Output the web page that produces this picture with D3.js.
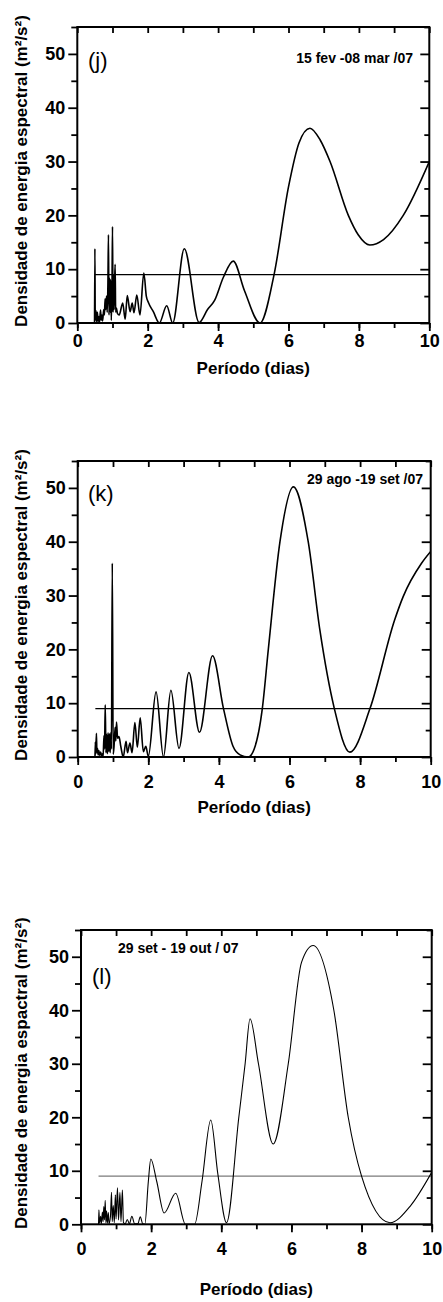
<!DOCTYPE html>
<html>
<head>
<meta charset="utf-8">
<script src="https://cdnjs.cloudflare.com/ajax/libs/d3/7.8.5/d3.min.js"></script>
<style>
  body { margin: 0; background: #fff; }
  text { font-family: "Liberation Sans", Arial, sans-serif; fill: #000; }
</style>
</head>
<body>
<script>
// ---- data ----
var xTicks = [0, 2, 4, 6, 8, 10];
var yTicks = [0, 10, 20, 30, 40, 50];
var xDomain = [0, 10];
var yDomain = [0, 55];
var threshold = 9;
var thresholdStart = 0.5;
var xTitle = "Período (dias)";

// (j) 15 fev - 08 mar / 07
var jPeriod = [0.49, 0.50, 0.51, 0.53, 0.55, 0.57, 0.59, 0.61, 0.63, 0.66, 0.68, 0.70, 0.72, 0.75, 0.77, 0.79,
  0.81, 0.83, 0.85, 0.87, 0.885, 0.90, 0.92, 0.935, 0.95, 0.965, 0.985, 1.0, 1.015, 1.03, 1.045, 1.06, 1.075,
  1.09, 1.11, 1.14, 1.19, 1.29, 1.36, 1.42, 1.50, 1.56, 1.61, 1.69, 1.78, 1.89, 1.96, 2.02, 2.16, 2.33, 2.54,
  2.71, 3.04, 3.46, 3.70, 3.90, 4.15, 4.43, 4.75, 5.19, 5.59, 6.00, 6.30, 6.61, 6.90, 7.18, 7.70, 7.98, 8.31,
  8.70, 9.26, 10.0];
var jDensity = [0, 13.8, 0.5, 2.3, 0.2, 2.0, 0.3, 1.2, 0.1, 2.4, 0.5, 1.5, 0.4, 2.5, 1.5, 4.5,
  2.5, 5.0, 2.0, 7.5, 16.4, 1.5, 8.3, 2.0, 8.0, 0.5, 6.0, 17.9, 2.0, 9.0, 2.5, 7.5, 10.9,
  2.0, 2.8, 1.8, 1.5, 3.7, 0.7, 5.1, 2.1, 3.7, 1.9, 5.2, 1.5, 9.3, 5.0, 3.8, 2.1, 0, 3.2,
  0, 13.8, 0.1, 2.5, 4.2, 8.5, 11.5, 6.0, 0, 9.0, 25.3, 33.5, 36.2, 34.0, 30.0, 20.0, 16.4, 14.5,
  15.5, 20.0, 30.0];

// (k) 29 ago - 19 set / 07
var kPeriod = [0.49, 0.50, 0.51, 0.53, 0.545, 0.56, 0.58, 0.60, 0.62, 0.65, 0.68, 0.70, 0.72, 0.745, 0.76, 0.78,
  0.80, 0.82, 0.84, 0.86, 0.88, 0.90, 0.92, 0.94, 0.955, 0.98, 1.005, 1.03, 1.06, 1.08, 1.10, 1.13, 1.17, 1.22,
  1.29, 1.37, 1.41, 1.48, 1.54, 1.62, 1.69, 1.77, 1.86, 1.93, 2.0, 2.22, 2.43, 2.64, 2.87, 3.15, 3.45, 3.82,
  4.13, 4.40, 4.60, 4.83, 5.00, 5.23, 5.40, 5.73, 6.11, 6.53, 6.86, 7.27, 7.71, 8.28, 8.98, 9.22, 9.74, 10.0];
var kDensity = [0, 2.8, 0.5, 4.4, 0.8, 1.6, 0.4, 1.2, 0.3, 0.9, 0.2, 0.6, 0.1, 4.0, 1.5, 9.7,
  0.8, 4.2, 0.6, 4.5, 1.0, 4.3, 0.8, 4.6, 1.5, 36.0, 0.5, 2.0, 5.5, 3.0, 6.5, 3.5, 3.8, 2.0,
  0, 2.9, 0.8, 2.6, 0.8, 6.4, 1.8, 7.3, 1.0, 2.0, 0.1, 12.1, 0, 12.4, 1.6, 15.7, 4.6, 18.8,
  9.0, 2.0, 0.4, 0, 1.5, 9.0, 20.0, 40.0, 50.2, 40.0, 23.6, 9.0, 0.9, 9.0, 25.5, 29.8, 36.0, 38.2];

// (l) 29 set - 19 out / 07
var lPeriod = [0.50, 0.51, 0.53, 0.56, 0.58, 0.61, 0.63, 0.65, 0.67, 0.69, 0.71, 0.73, 0.75, 0.78, 0.80,
  0.84, 0.87, 0.89, 0.92, 0.95, 0.98, 1.00, 1.04, 1.07, 1.11, 1.14, 1.18, 1.21, 1.26, 1.32, 1.38, 1.45, 1.53,
  1.62, 1.69, 1.76, 1.82, 1.92, 1.99, 2.16, 2.37, 2.70, 2.98, 3.10, 3.24, 3.45, 3.70, 3.90, 4.15, 4.50, 4.68,
  4.82, 5.06, 5.48, 5.91, 6.29, 6.62, 7.21, 7.62, 8.00, 8.81, 9.40, 10.0];
var lDensity = [0, 2.7, 0.2, 1.5, 0.1, 2.3, 0.5, 3.3, 0.8, 4.5, 0.3, 2.5, 0.2, 2.2, 0.1,
  1.5, 6.0, 0.5, 3.5, 0.3, 5.5, 1.0, 6.8, 0.8, 6.0, 0.5, 6.4, 0.3, 0.1, 0.9, 0.1, 1.5, 0.1,
  0.1, 1.4, 0.1, 0, 8.0, 12.2, 8.0, 2.1, 5.8, 0, 0, 0, 8.0, 19.5, 9.5, 0.3, 20.0, 30.0,
  38.4, 30.0, 15.0, 30.0, 49.0, 52.1, 40.0, 20.0, 9.0, 0.3, 3.5, 9.7];

// ---- layout ----
var width = 443;
var height = 1302;

var panels = [
  { period: jPeriod, density: jDensity, left: 77.3, right: 429.3, top: 27, bottom: 323, xPad: 3,
    yTitle: "Densidade de energia espectral (m²/s²)", tag: "(j)", tagX: 88, tagY: 68,
    date: "15 fev -08 mar /07", dateX: 413, dateY: 63, dateAnchor: "end",
    titleY: 374, lineW: 1.6, thrColor: "#000", thrW: 1.2 },
  { period: kPeriod, density: kDensity, left: 77.7, right: 430.7, top: 461, bottom: 757, xPad: 10,
    yTitle: "Densidade de energia espectral (m²/s²)", tag: "(k)", tagX: 88, tagY: 501,
    date: "29 ago -19 set /07", dateX: 423, dateY: 484, dateAnchor: "end",
    titleY: 813, lineW: 1.6, thrColor: "#000", thrW: 1.2 },
  { period: lPeriod, density: lDensity, left: 81, right: 431.7, top: 930, bottom: 1224.3, xPad: 10,
    yTitle: "Densidade de energia espactral (m²/s²)", tag: "(l)", tagX: 92, tagY: 984,
    date: "29 set - 19 out / 07", dateX: 118, dateY: 953, dateAnchor: "start",
    titleY: 1295, lineW: 1.1, thrColor: "#7a7a7a", thrW: 1.4 }
];

var svg = d3.select("body")
            .append("svg")
            .attr("width", width)
            .attr("height", height);

function styleAxis(g) {
  g.select(".domain").remove();
  g.selectAll(".tick line").attr("stroke", "#000").attr("stroke-width", 1.8);
  g.selectAll(".tick text")
   .style("font-family", "'Liberation Sans', Arial, sans-serif")
   .style("font-size", "18px")
   .style("font-weight", "bold")
   .attr("fill", "#000");
}

panels.forEach(function(p, i) {
  var x = d3.scaleLinear().domain(xDomain).range([p.left, p.right]);
  var y = d3.scaleLinear().domain(yDomain).range([p.bottom, p.top]);
  var g = svg.append("g");

  var minorX = d3.range(xDomain[0], xDomain[1] + 1, 1);
  var minorY = d3.range(5, yDomain[1] + 1, 10);

  // bottom axis: minor + major ticks pointing out
  g.append("g").attr("transform", `translate(0, ${p.bottom})`)
   .call(d3.axisBottom(x).tickValues(minorX).tickSize(5).tickFormat(""))
   .call(styleAxis);
  g.append("g").attr("transform", `translate(0, ${p.bottom})`)
   .call(d3.axisBottom(x).tickValues(xTicks).tickSize(8).tickPadding(p.xPad).tickFormat(d3.format("d")))
   .call(styleAxis);

  // top axis: ticks pointing in
  g.append("g").attr("transform", `translate(0, ${p.top})`)
   .call(d3.axisBottom(x).tickValues(minorX).tickSize(6).tickFormat(""))
   .call(styleAxis);

  // left axis
  g.append("g").attr("transform", `translate(${p.left}, 0)`)
   .call(d3.axisLeft(y).tickValues(minorY).tickSize(6).tickFormat(""))
   .call(styleAxis);
  g.append("g").attr("transform", `translate(${p.left}, 0)`)
   .call(d3.axisLeft(y).tickValues(yTicks).tickSize(9).tickPadding(3).tickFormat(d3.format("d")))
   .call(styleAxis);

  // right axis: ticks pointing in
  g.append("g").attr("transform", `translate(${p.right}, 0)`)
   .call(d3.axisRight(y).tickValues(minorY).tickSize(-5).tickFormat(""))
   .call(styleAxis);
  g.append("g").attr("transform", `translate(${p.right}, 0)`)
   .call(d3.axisRight(y).tickValues(yTicks).tickSize(-9).tickFormat(""))
   .call(styleAxis);

  // clip for the curve
  var clipId = "clip" + i;
  svg.append("clipPath").attr("id", clipId)
     .append("rect")
     .attr("x", p.left).attr("y", p.top)
     .attr("width", p.right - p.left).attr("height", p.bottom - p.top);

  // threshold line
  g.append("line")
   .attr("x1", x(thresholdStart)).attr("x2", x(xDomain[1]))
   .attr("y1", y(threshold)).attr("y2", y(threshold))
   .attr("stroke", p.thrColor)
   .attr("stroke-width", p.thrW);

  // spectrum
  var line = d3.line()
               .x(function(d) { return x(d[0]); })
               .y(function(d) { return y(d[1]); })
               .curve(d3.curveMonotoneX);

  g.append("path")
   .attr("clip-path", `url(#${clipId})`)
   .attr("d", line(d3.zip(p.period, p.density)))
   .attr("fill", "none")
   .attr("stroke", "#000")
   .attr("stroke-width", p.lineW)
   .attr("stroke-linejoin", "round");

  // frame
  g.append("rect")
   .attr("x", p.left).attr("y", p.top)
   .attr("width", p.right - p.left).attr("height", p.bottom - p.top)
   .attr("fill", "none")
   .attr("stroke", "#000")
   .attr("stroke-width", 2);

  // labels
  g.append("text")
   .attr("x", p.tagX).attr("y", p.tagY)
   .style("font-size", "22px")
   .text(p.tag);

  g.append("text")
   .attr("x", p.dateX).attr("y", p.dateY)
   .attr("text-anchor", p.dateAnchor)
   .style("font-size", "14px")
   .style("font-weight", "bold")
   .text(p.date);

  g.append("text")
   .attr("x", (p.left + p.right) / 2)
   .attr("y", p.titleY)
   .attr("text-anchor", "middle")
   .style("font-size", "17px")
   .style("font-weight", "bold")
   .text(xTitle);

  g.append("text")
   .attr("transform", `translate(27, ${(p.top + p.bottom) / 2 - 4}) rotate(-90)`)
   .attr("text-anchor", "middle")
   .style("font-size", "17px")
   .style("font-weight", "bold")
   .text(p.yTitle);
});
</script>
</body>
</html>
